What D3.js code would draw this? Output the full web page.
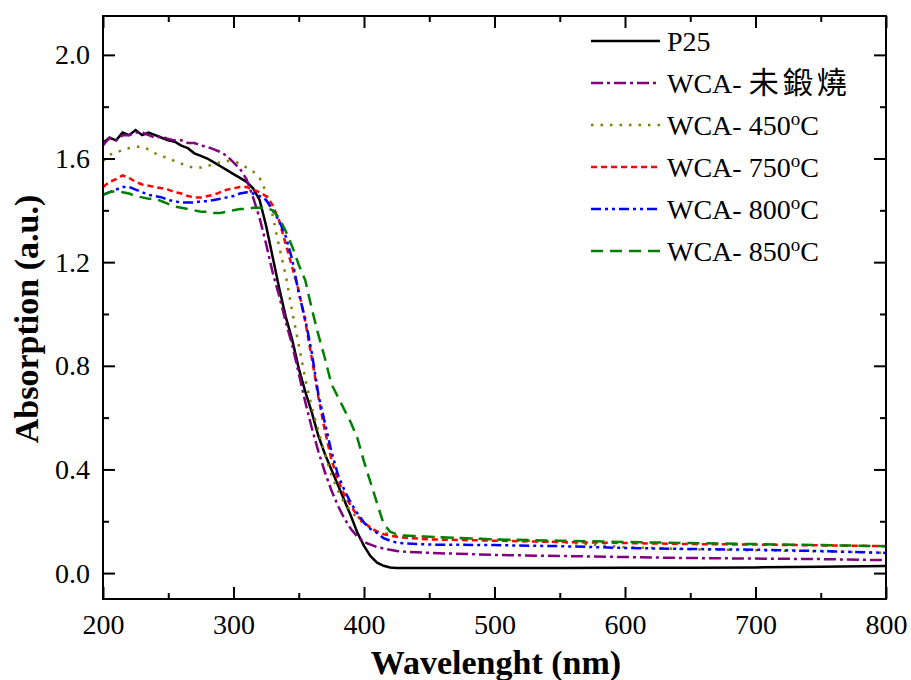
<!DOCTYPE html>
<html>
<head>
<meta charset="utf-8">
<script src="https://d3js.org/d3.v7.min.js"></script>
<style>
  body { margin: 0; background: white; }
  text { font-family: "Liberation Serif", "Times New Roman", serif; fill: black; }
  .axis path { display: none; }
  .axis line { stroke: black; stroke-width: 2px; }
</style>
</head>
<body>
<div id="chart"></div>
<script>
// wavelength (nm)
var wavelengths = [200,205,210,215,220,225,230,235,240,245,250,255,260,265,270,275,280,285,290,295,300,
  305,310,315,320,325,330,335,340,345,350,355,360,365,370,375,380,385,390,395,400,405,410,415,420,425,430,
  450,500,550,600,650,700,750,800];

var p25 = [1.66,1.68,1.67,1.70,1.69,1.71,1.69,1.70,1.69,1.68,1.67,1.665,1.65,1.64,1.62,1.61,1.60,1.585,1.57,1.555,1.54,
  1.525,1.51,1.485,1.44,1.34,1.22,1.10,0.99,0.90,0.79,0.70,0.62,0.53,0.46,0.40,0.34,0.28,0.22,0.155,0.105,0.065,0.04,0.028,0.022,0.02,0.02,
  0.02,0.02,0.02,0.021,0.021,0.022,0.024,0.027];
var wcaRaw = [1.65,1.68,1.67,1.69,1.69,1.70,1.70,1.69,1.68,1.685,1.675,1.67,1.67,1.66,1.66,1.65,1.645,1.635,1.625,1.61,1.585,
  1.56,1.52,1.45,1.37,1.27,1.16,1.07,0.97,0.88,0.77,0.66,0.56,0.47,0.39,0.32,0.26,0.21,0.17,0.14,0.12,0.11,0.10,0.095,0.09,0.085,0.083,
  0.078,0.07,0.066,0.062,0.058,0.056,0.054,0.05];
var wca450 = [1.59,1.615,1.62,1.635,1.64,1.645,1.645,1.635,1.62,1.61,1.60,1.59,1.58,1.57,1.565,1.565,1.57,1.58,1.585,1.59,1.59,
  1.58,1.565,1.55,1.525,1.47,1.38,1.26,1.15,1.01,0.88,0.75,0.64,0.55,0.46,0.38,0.32,0.27,0.24,0.21,0.19,0.175,0.16,0.155,0.15,0.145,0.145,
  0.14,0.13,0.12,0.10,0.092,0.088,0.084,0.078];
var wca750 = [1.49,1.51,1.52,1.535,1.525,1.51,1.50,1.495,1.49,1.485,1.48,1.47,1.465,1.455,1.45,1.45,1.455,1.46,1.47,1.48,1.485,
  1.49,1.49,1.48,1.47,1.455,1.42,1.36,1.27,1.18,1.09,0.97,0.83,0.68,0.55,0.44,0.36,0.30,0.26,0.22,0.195,0.175,0.16,0.15,0.145,0.14,0.137,
  0.13,0.125,0.12,0.116,0.112,0.11,0.107,0.104];
var wca800 = [1.46,1.47,1.48,1.49,1.49,1.48,1.47,1.46,1.455,1.45,1.44,1.435,1.43,1.43,1.43,1.435,1.435,1.44,1.445,1.45,1.455,
  1.465,1.47,1.465,1.455,1.44,1.40,1.36,1.30,1.21,1.08,0.98,0.85,0.69,0.58,0.47,0.38,0.32,0.27,0.23,0.195,0.17,0.155,0.135,0.125,0.118,0.115,
  0.11,0.108,0.104,0.097,0.093,0.09,0.085,0.078];
var wca850 = [1.46,1.47,1.475,1.47,1.465,1.455,1.45,1.445,1.445,1.435,1.425,1.415,1.41,1.405,1.40,1.395,1.395,1.39,1.39,1.395,1.40,
  1.405,1.405,1.41,1.41,1.41,1.40,1.37,1.32,1.26,1.19,1.13,1.02,0.92,0.83,0.73,0.68,0.63,0.58,0.52,0.43,0.35,0.27,0.19,0.16,0.15,0.145,
  0.14,0.13,0.125,0.12,0.116,0.112,0.108,0.104];

var seriesNames = ["P25", "WCA- ", "WCA- ", "WCA- ", "WCA- ", "WCA- "];
var seriesSuffix = ["", "未鍛燒", "450", "750", "800", "850"];
var seriesValues = [p25, wcaRaw, wca450, wca750, wca800, wca850];

var xMajor = [200,300,400,500,600,700,800];
var xMinor = [250,350,450,550,650,750];
var yMajor = [0.0,0.4,0.8,1.2,1.6,2.0];
var yMinor = [0.2,0.6,1.0,1.4,1.8];

var colors = ["#000000", "#800080", "#808000", "#ff0000", "#0000ff", "#008000"];
var dashes = [null, "12,4,3,4", "2.5,7", "6,4", "10,4,3,4,3,4", "12,7"];

var width = 911, height = 680;
var plotLeft = 103, plotRight = 886, plotTop = 16, plotBottom = 599;

var svg = d3.select("#chart").append("svg")
  .attr("width", width).attr("height", height)
  .style("background", "white");

var x = d3.scaleLinear().domain([200, 800]).range([plotLeft, plotRight]);
var y = d3.scaleLinear().domain([-0.1, 2.15]).range([plotBottom, plotTop]);

svg.append("clipPath").attr("id", "clip")
  .append("rect").attr("x", plotLeft).attr("y", plotTop)
  .attr("width", plotRight - plotLeft).attr("height", plotBottom - plotTop);

// curves
var line = d3.line()
  .x(function(d, i) { return x(wavelengths[i]); })
  .y(function(d) { return y(d); });

seriesValues.forEach(function(vals, i) {
  svg.append("path")
    .attr("d", line(vals))
    .attr("clip-path", "url(#clip)")
    .attr("fill", "none")
    .attr("stroke", colors[i])
    .attr("stroke-width", 2.5)
    .attr("stroke-dasharray", dashes[i]);
});

// axes: inward ticks all round
function addAxis(axis, tx, ty) {
  var g = svg.append("g").attr("class", "axis")
    .attr("transform", "translate(" + tx + "," + ty + ")").call(axis);
  g.selectAll("text").style("font-size", "28px").style("font-family", "Liberation Serif");
  return g;
}

addAxis(d3.axisBottom(x).tickValues(xMajor).tickSizeInner(-12).tickSizeOuter(0).tickPadding(15).tickFormat(d3.format("d")), 0, plotBottom);
addAxis(d3.axisBottom(x).tickValues(xMinor).tickSizeInner(-6).tickSizeOuter(0).tickFormat(""), 0, plotBottom);
addAxis(d3.axisTop(x).tickValues(xMajor).tickSizeInner(-12).tickSizeOuter(0).tickFormat(""), 0, plotTop);
addAxis(d3.axisTop(x).tickValues(xMinor).tickSizeInner(-6).tickSizeOuter(0).tickFormat(""), 0, plotTop);

addAxis(d3.axisLeft(y).tickValues(yMajor).tickSizeInner(-12).tickSizeOuter(0).tickPadding(13).tickFormat(d3.format(".1f")), plotLeft, 0);
addAxis(d3.axisLeft(y).tickValues(yMinor).tickSizeInner(-6).tickSizeOuter(0).tickFormat(""), plotLeft, 0);
addAxis(d3.axisRight(y).tickValues(yMajor).tickSizeInner(-12).tickSizeOuter(0).tickFormat(""), plotRight, 0);
addAxis(d3.axisRight(y).tickValues(yMinor).tickSizeInner(-6).tickSizeOuter(0).tickFormat(""), plotRight, 0);

svg.append("rect")
  .attr("x", plotLeft).attr("y", plotTop)
  .attr("width", plotRight - plotLeft).attr("height", plotBottom - plotTop)
  .attr("fill", "none").attr("stroke", "black").attr("stroke-width", 2);

// axis titles
svg.append("text")
  .attr("x", 496).attr("y", 674)
  .attr("text-anchor", "middle")
  .style("font-size", "34px").style("font-weight", "bold")
  .text("Wavelenght (nm)");

svg.append("text")
  .attr("text-anchor", "middle")
  .attr("transform", "translate(38,319)rotate(-90)")
  .style("font-size", "34px").style("font-weight", "bold")
  .text("Absorption (a.u.)");

// legend
var legend = svg.append("g");
seriesNames.forEach(function(name, i) {
  var ly = 41 + i * 42;
  legend.append("line")
    .attr("x1", 591).attr("x2", 660)
    .attr("y1", ly).attr("y2", ly)
    .attr("stroke", colors[i])
    .attr("stroke-width", 2.5)
    .attr("stroke-dasharray", dashes[i]);

  var t = legend.append("text")
    .attr("x", 667).attr("y", ly).attr("dy", "0.35em")
    .style("font-size", "28px");
  t.append("tspan").text(name);
  if (i == 1) {
    t.append("tspan")
      .style("font-family", "'Noto Sans CJK TC'")
      .style("font-size", "30px")
      .style("letter-spacing", "4px")
      .text(seriesSuffix[i]);
  } else if (i > 1) {
    t.append("tspan").text(seriesSuffix[i]);
    t.append("tspan").attr("dy", -10).style("font-size", "19px").text("o");
    t.append("tspan").attr("dy", 10).text("C");
  }
});
</script>
</body>
</html>
